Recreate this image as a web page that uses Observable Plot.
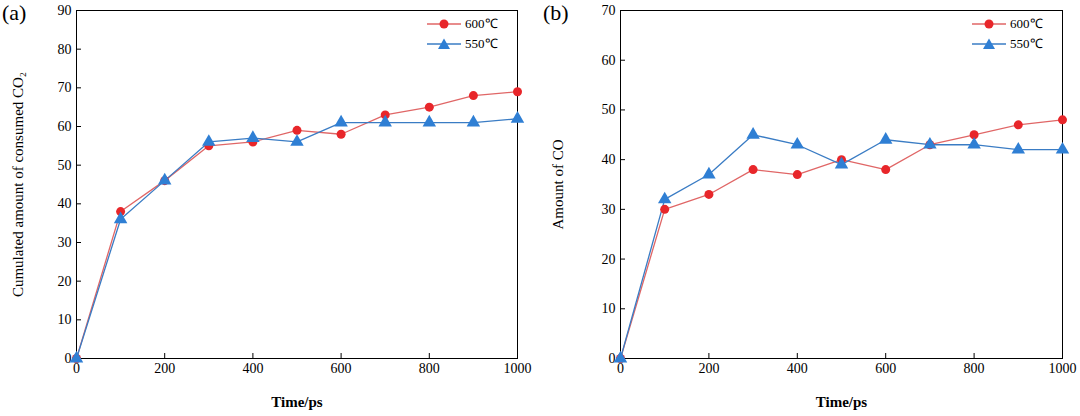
<!DOCTYPE html>
<html><head><meta charset="utf-8">
<script src="https://cdn.jsdelivr.net/npm/d3@7"></script>
<script src="https://cdn.jsdelivr.net/npm/@observablehq/plot@0.6"></script>
<style>
body{margin:0;background:#fff;font-family:"Liberation Serif",serif;}
#wrap{position:relative;width:1080px;height:416px;display:flex;}
#wrap svg text{font-family:"Liberation Serif",serif;}
.lab{position:absolute;font-size:22px;}
.leg{position:absolute;font-size:13px;line-height:20px;}
.leg div{display:flex;align-items:center;gap:4px;}
</style></head><body>
<div id="wrap"></div>
<script>
const time = [0,100,200,300,400,500,600,700,800,900,1000];
const a600 = [0,38,46,55,56,59,58,63,65,68,69];
const a550 = [0,36,46,56,57,56,61,61,61,61,62];
const b600 = [0,30,33,38,37,40,38,43,45,47,48];
const b550 = [0,32,37,45,43,39,44,43,43,42,42];
const red="#e8262a", blue="#2f7fd4", redL="#e06666", blueL="#3a7cc4";
function rows(v,s){return time.map((t,i)=>({t,v:v[i],s}));}
function panel(d600,d550,ymax,ylabel,ml,mr){
  return Plot.plot({
    width:540,height:416,marginLeft:ml,marginRight:mr,marginTop:10,marginBottom:58,
    style:{fontFamily:"Liberation Serif, serif",fontSize:"14px",color:"#000"},
    x:{domain:[0,1000]},
    y:{domain:[0,ymax]},
    marks:[
      Plot.frame({stroke:"#000"}),
      Plot.axisX({ticks:[0,200,400,600,800,1000],tickFormat:d=>String(d),tickSize:-5,tickPadding:10,fontSize:14,label:null}),
      Plot.axisX({ticks:[],label:"Time/ps",labelAnchor:"center",labelOffset:48,labelArrow:"none",fontSize:15,fontWeight:"bold"}),
      Plot.axisY({ticks:d3.range(0,ymax+1,10),tickSize:-5,tickPadding:10,fontSize:14,label:ylabel,labelAnchor:"center",labelOffset:ml-12,labelArrow:"none"}),
      Plot.line(rows(d600,"600"),{x:"t",y:"v",stroke:redL,strokeWidth:1.3}),
      Plot.line(rows(d550,"550"),{x:"t",y:"v",stroke:blueL,strokeWidth:1.3}),
      Plot.dot(rows(d600,"600"),{x:"t",y:"v",fill:red,r:4.5,symbol:"circle"}),
      Plot.dot(rows(d550,"550"),{x:"t",y:"v",fill:blue,r:5,symbol:"triangle"})
    ]
  });
}
const w=document.getElementById("wrap");
w.append(panel(a600,a550,90,"Cumulated amount of consumed CO₂",76,23));
w.append(panel(b600,b550,70,"Amount of CO",80,18));
w.querySelectorAll("svg [aria-label='y-axis label'] text").forEach(t=>t.setAttribute("font-size","15"));
function legend(x){
  const d=document.createElement("div");d.className="leg";d.style.left=x+"px";d.style.top="14px";
  d.innerHTML=`<div><svg width="34" height="12"><line x1="0" y1="6" x2="34" y2="6" stroke="${redL}" stroke-width="1.3"/><circle cx="17" cy="6" r="4.5" fill="${red}"/></svg>600℃</div>
  <div><svg width="34" height="12"><line x1="0" y1="6" x2="34" y2="6" stroke="${blueL}" stroke-width="1.3"/><path d="M17,0.5L23,11L11,11Z" fill="${blue}"/></svg>550℃</div>`;
  w.append(d);
}
legend(427);legend(972);
for(const [t,x] of [["(a)",2],["(b)",543]]){const l=document.createElement("div");l.className="lab";l.style.left=x+"px";l.style.top="0px";l.textContent=t;w.append(l);}
</script></body></html>
